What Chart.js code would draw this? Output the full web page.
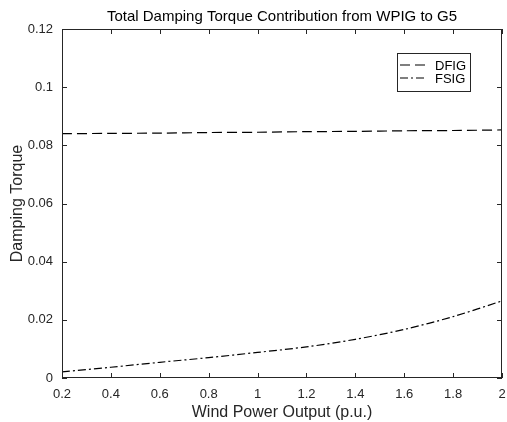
<!DOCTYPE html>
<html>
<head>
<meta charset="utf-8">
<script src="https://cdn.jsdelivr.net/npm/chart.js@4.4.1/dist/chart.umd.min.js"></script>
<style>
  html, body { margin: 0; padding: 0; background: #fff; }
  #wrap { width: 507px; height: 422px; }
</style>
</head>
<body>
<div id="wrap"><canvas id="damping-chart" width="507" height="422"></canvas></div>
<script>
// wind power output (p.u.)
const windPower = [0.2, 0.4, 0.6, 0.8, 1.0, 1.2, 1.4, 1.6, 1.8, 2.0];
// damping torque
const dfigTorque = [0.0840, 0.0841, 0.0842, 0.0844, 0.0845, 0.0847, 0.0848, 0.0850, 0.0851, 0.0853];
const fsigTorque = [0.0021, 0.0037, 0.0054, 0.0070, 0.0088, 0.0107, 0.0133, 0.0167, 0.0211, 0.0265];
const xTicks = [0.2, 0.4, 0.6, 0.8, 1, 1.2, 1.4, 1.6, 1.8, 2];
const yTicks = [0, 0.02, 0.04, 0.06, 0.08, 0.1, 0.12];

const axisColor = '#262626';
const fontFamily = "'Liberation Sans', Arial, Helvetica, sans-serif";

// matlab style box with inward ticks, title and legend inside the axes
const matlabFrame = {
    id: 'matlabFrame',
    afterDraw(chart) {
        const ctx = chart.ctx;
        const area = chart.chartArea;
        const xs = chart.scales.x, ys = chart.scales.y;
        const len = 5;
        ctx.save();
        ctx.strokeStyle = axisColor;
        ctx.lineWidth = 1;
        ctx.setLineDash([]);
        ctx.strokeRect(area.left + 0.5, area.top + 0.5, area.right - area.left - 1, area.bottom - area.top - 1);
        ctx.beginPath();
        xTicks.forEach(v => {
            const px = Math.round(xs.getPixelForValue(v)) + 0.5;
            ctx.moveTo(px, area.bottom); ctx.lineTo(px, area.bottom - len);
            ctx.moveTo(px, area.top); ctx.lineTo(px, area.top + len);
        });
        yTicks.forEach(v => {
            const py = Math.round(ys.getPixelForValue(v)) + 0.5;
            ctx.moveTo(area.left, py); ctx.lineTo(area.left + len, py);
            ctx.moveTo(area.right, py); ctx.lineTo(area.right - len, py);
        });
        ctx.stroke();

        // title
        ctx.fillStyle = '#000';
        ctx.font = '15px ' + fontFamily;
        ctx.textAlign = 'center';
        ctx.textBaseline = 'middle';
        ctx.fillText('Total Damping Torque Contribution from WPIG to G5', (area.left + area.right) / 2, 17);

        // legend
        const lx = 397, ly = 53, lw = 73, lh = 38;
        ctx.fillStyle = '#fff';
        ctx.fillRect(lx, ly, lw, lh);
        ctx.strokeStyle = '#262626';
        ctx.lineWidth = 1;
        ctx.strokeRect(lx + 0.5, ly + 0.5, lw, lh);
        chart.data.datasets.forEach((ds, i) => {
            const y = ly + 12 + i * 13;
            ctx.strokeStyle = ds.borderColor;
            ctx.lineWidth = ds.borderWidth;
            ctx.setLineDash(ds.borderDash);
            ctx.beginPath();
            ctx.moveTo(lx + 3, y);
            ctx.lineTo(lx + 30, y);
            ctx.stroke();
            ctx.setLineDash([]);
            ctx.fillStyle = '#000';
            ctx.font = '13px ' + fontFamily;
            ctx.textAlign = 'left';
            ctx.fillText(ds.label, lx + 38, y + 1);
        });
        ctx.restore();
    }
};

const config = {
    type: 'line',
    data: {
        datasets: [
            {
                label: 'DFIG',
                data: windPower.map((x, i) => ({x: x, y: dfigTorque[i]})),
                borderColor: '#000',
                borderWidth: 1.2,
                borderDash: [10, 5],
                pointRadius: 0,
                tension: 0.3,
                fill: false
            },
            {
                label: 'FSIG',
                data: windPower.map((x, i) => ({x: x, y: fsigTorque[i]})),
                borderColor: '#000',
                borderWidth: 1.2,
                borderDash: [8, 3, 2, 3],
                pointRadius: 0,
                tension: 0.3,
                fill: false
            }
        ]
    },
    options: {
        responsive: false,
        animation: false,
        layout: {
            padding: {top: 29, right: 5, left: 0, bottom: 0}
        },
        plugins: {
            legend: {display: false},
            title: {display: false},
            tooltip: {enabled: false}
        },
        scales: {
            x: {
                type: 'linear',
                min: 0.2,
                max: 2,
                afterBuildTicks: scale => { scale.ticks = xTicks.map(v => ({value: v})); },
                afterFit: scale => {
                    scale.height = 44;
                    scale.paddingLeft = 0;
                    scale.paddingRight = 0;
                },
                grid: {display: false, drawTicks: false},
                border: {display: false},
                ticks: {
                    color: axisColor,
                    padding: 9,
                    maxRotation: 0,
                    font: {family: fontFamily, size: 13},
                    callback: v => String(v)
                },
                title: {
                    display: true,
                    text: 'Wind Power Output (p.u.)',
                    color: axisColor,
                    padding: {top: 0, bottom: 0},
                    font: {family: fontFamily, size: 16}
                }
            },
            y: {
                min: 0,
                max: 0.12,
                afterBuildTicks: scale => { scale.ticks = yTicks.map(v => ({value: v})); },
                afterFit: scale => {
                    scale.width = 62;
                    scale.paddingTop = 0;
                    scale.paddingBottom = 0;
                },
                grid: {display: false, drawTicks: false},
                border: {display: false},
                ticks: {
                    color: axisColor,
                    padding: 9,
                    font: {family: fontFamily, size: 13},
                    callback: v => String(v)
                },
                title: {
                    display: true,
                    text: 'Damping Torque',
                    color: axisColor,
                    padding: {top: 8, bottom: 0},
                    font: {family: fontFamily, size: 16}
                }
            }
        }
    },
    plugins: [matlabFrame]
};

const ctx = document.getElementById('damping-chart').getContext('2d');
window.dampingChart = new Chart(ctx, config);
</script>
</body>
</html>
